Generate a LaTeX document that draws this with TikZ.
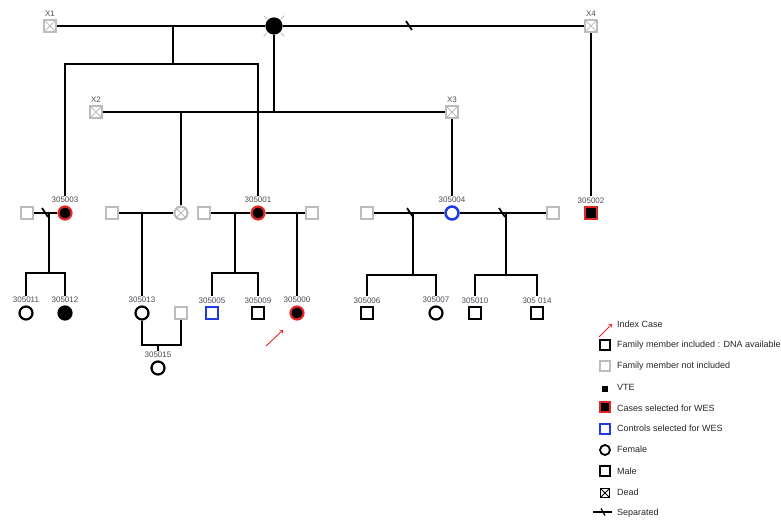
\documentclass[tikz,border=0pt]{standalone}
\usepackage{fontspec}
\setmainfont{Liberation Sans}
\usepackage{tikz}
\usetikzlibrary{arrows,positioning,calc}

\definecolor{wesred}{RGB}{228,38,38}
\definecolor{wesblue}{RGB}{30,60,230}
\definecolor{nigray}{RGB}{188,188,188}
\definecolor{idgray}{RGB}{75,75,85}

\tikzset{
	ind/.style={draw=black, line width=2.2pt, minimum size=12pt, inner sep=0pt, fill=white},
	male/.style={ind, rectangle},
	female/.style={ind, circle, minimum size=13pt},
	nincl/.style={draw=nigray},
	vte/.style={fill=black},
	wescase/.style={draw=wesred, fill=black},
	wesctrl/.style={draw=wesblue},
	dead/.style={path picture={\draw[#1, line width=0.8pt]
		(path picture bounding box.north west) -- (path picture bounding box.south east)
		(path picture bounding box.north east) -- (path picture bounding box.south west);}},
	dead/.default=nigray,
	idlbl/.style={font=\fontsize{8}{9}\selectfont, text=idgray, inner sep=1pt, text height=5.7pt, text depth=0pt},
	id/.style 2 args={label={[idlbl, name=#1, label distance=1.5pt]above:#2}},
	line/.style={line width=2.3pt, black},
	idx/.style={wesred, line width=0.9pt, ->},
	legtxt/.style={anchor=west, font=\fontsize{9}{10}\selectfont, text=black!85, inner sep=0pt, text height=6.5pt, text depth=0pt},
}

\begin{document}
\begin{tikzpicture}[x=1pt,y=-1pt]
		\useasboundingbox (0,0) rectangle (781,519);
		% generation I
		\node[male, nincl, dead, id={lx1}{X1}] (x1) at (50,26) {};
		\node[female, vte, minimum size=15pt] (top) at (274,26) {};
		\node[male, nincl, dead, id={lx4}{X4}] (x4) at (591,26) {};
		\foreach \a in {45,135,225,315}
		{
			\draw [nigray, line width=0.8pt] (top) ++(\a:9.5) -- ++(\a:5);
		}
		% spouses of generation II
		\node[male, nincl, dead, id={lx2}{X2}] (x2) at (96,112) {};
		\node[male, nincl, dead, id={lx3}{X3}] (x3) at (452,112) {};
		% generation II
		\node[male, nincl] (p1) at (27,213) {};
		\node[female, wescase, id={l5003}{305003}] (i5003) at (65,213) {};
		\node[male, nincl] (p2) at (112,213) {};
		\node[female, nincl, dead] (g2) at (181,213) {};
		\node[male, nincl] (p3) at (204,213) {};
		\node[female, wescase, id={l5001}{305001}] (i5001) at (258,213) {};
		\node[male, nincl] (p4) at (312,213) {};
		\node[male, nincl] (p5) at (367,213) {};
		\node[female, wesctrl, line width=2.5pt, id={l5004}{305004}] (i5004) at (452,213) {};
		\node[male, nincl] (p6) at (553,213) {};
		\node[male, wescase, line width=2.5pt, id={l5002}{305002}] (i5002) at (591,213) {};
		% generation III
		\node[female, id={l5011}{305011}] (i5011) at (26,313) {};
		\node[female, vte, id={l5012}{305012}] (i5012) at (65,313) {};
		\node[female, id={l5013}{305013}] (i5013) at (142,313) {};
		\node[male, nincl] (p7) at (181,313) {};
		\node[male, wesctrl, id={l5005}{305005}] (i5005) at (212,313) {};
		\node[male, id={l5009}{305009}] (i5009) at (258,313) {};
		\node[female, wescase, id={l5000}{305000}] (i5000) at (297,313) {};
		\node[male, id={l5006}{305006}] (i5006) at (367,313) {};
		\node[female, id={l5007}{305007}] (i5007) at (436,313) {};
		\node[male, id={l5010}{305010}] (i5010) at (475,313) {};
		\node[male, id={l5014}{305 014}] (i5014) at (537,313) {};
		% generation IV
		\node[female, id={l5015}{305015}] (i5015) at (158,368) {};
		% junctions
		\coordinate (m1) at (173,26);
		\coordinate (s1) at (173,64);
		\coordinate (j2) at (274,112);
		\coordinate (j3) at (181,112);
		\coordinate (d1) at (49,213);
		\coordinate (s2) at (49,273);
		\coordinate (d2) at (142,213);
		\coordinate (d3) at (235,213);
		\coordinate (s3) at (235,273);
		\coordinate (d4) at (297,213);
		\coordinate (d5) at (413,213);
		\coordinate (s5) at (413,275);
		\coordinate (d6) at (506,213);
		\coordinate (s6) at (506,275);
		\coordinate (s7) at (158,345);
		% lines of descent
		\draw [line] (x1) -- (top) -- (x4);
		\draw [line] (m1) -- (s1);
		\draw [line] (l5003) |- (s1) -| (l5001);
		\draw [line] (top) -- (j2);
		\draw [line] (x2) -- (x3);
		\draw [line] (j3) -- (g2);
		\draw [line] (x3) -- (l5004);
		\draw [line] (x4) -- (l5002);
		\draw [line] (p1) -- (i5003);
		\draw [line] (d1) -- (s2);
		\draw [line] (l5011) |- (s2) -| (l5012);
		\draw [line] (p2) -- (g2);
		\draw [line] (d2) -- (l5013);
		\draw [line] (p3) -- (i5001) -- (p4);
		\draw [line] (d3) -- (s3);
		\draw [line] (l5005) |- (s3) -| (l5009);
		\draw [line] (d4) -- (l5000);
		\draw [line] (p5) -- (i5004) -- (p6);
		\draw [line] (d5) -- (s5);
		\draw [line] (l5006) |- (s5) -| (l5007);
		\draw [line] (d6) -- (s6);
		\draw [line] (l5010) |- (s6) -| (l5014);
		\draw [line] (i5013) |- (s7) -| (p7);
		\draw [line] (s7) -- (l5015);
		% separations
		\foreach \p in {(409,26),(45,213),(410,213),(502,213)}
		{
			\draw [line, line width=1.7pt] \p ++(-3,-5) -- ++(6,9);
		}
		% index case
		\coordinate (a0) at (266,346);
		\coordinate (a1) at (283,330);
		\draw [idx] (a0) -- (a1);
		% legend
		\coordinate (k0a) at (599,337);
		\coordinate (k0b) at (612,324);
		\draw [idx] (k0a) -- (k0b);
		\node[male, minimum size=10pt, line width=1.8pt] (k1) at (605,345) {};
		\node[male, nincl, minimum size=10pt, line width=1.5pt] (k2) at (605,366) {};
		\node[fill=black, minimum size=6.5pt, inner sep=0pt] (k3) at (605,389) {};
		\node[male, wescase, minimum size=10pt] (k4) at (605,407) {};
		\node[male, wesctrl, minimum size=10pt, line width=1.5pt] (k5) at (605,429) {};
		\node[female, minimum size=10pt, line width=1.8pt] (k6) at (605,450) {};
		\node[male, minimum size=10pt, line width=1.8pt] (k7) at (605,471) {};
		\node[male, minimum size=9pt, line width=1pt, dead=black] (k8) at (605,493) {};
		\coordinate (k9a) at (593,512);
		\coordinate (k9b) at (612,512);
		\draw [line, line width=1.3pt] (k9a) -- (k9b);
		\draw [line, line width=1.3pt] (603,512) ++(-2,-3.5) -- ++(4,7);
		\foreach \y/\t in {324/Index Case, 344/Family member included : DNA available,
			365/Family member not included, 387/VTE, 408/Cases selected for WES,
			428/Controls selected for WES, 449/Female, 471/Male, 492/Dead, 512/Separated}
		{
			\node[legtxt] (t\y) at (617,\y) {\t};
		}
\end{tikzpicture}
\end{document}
